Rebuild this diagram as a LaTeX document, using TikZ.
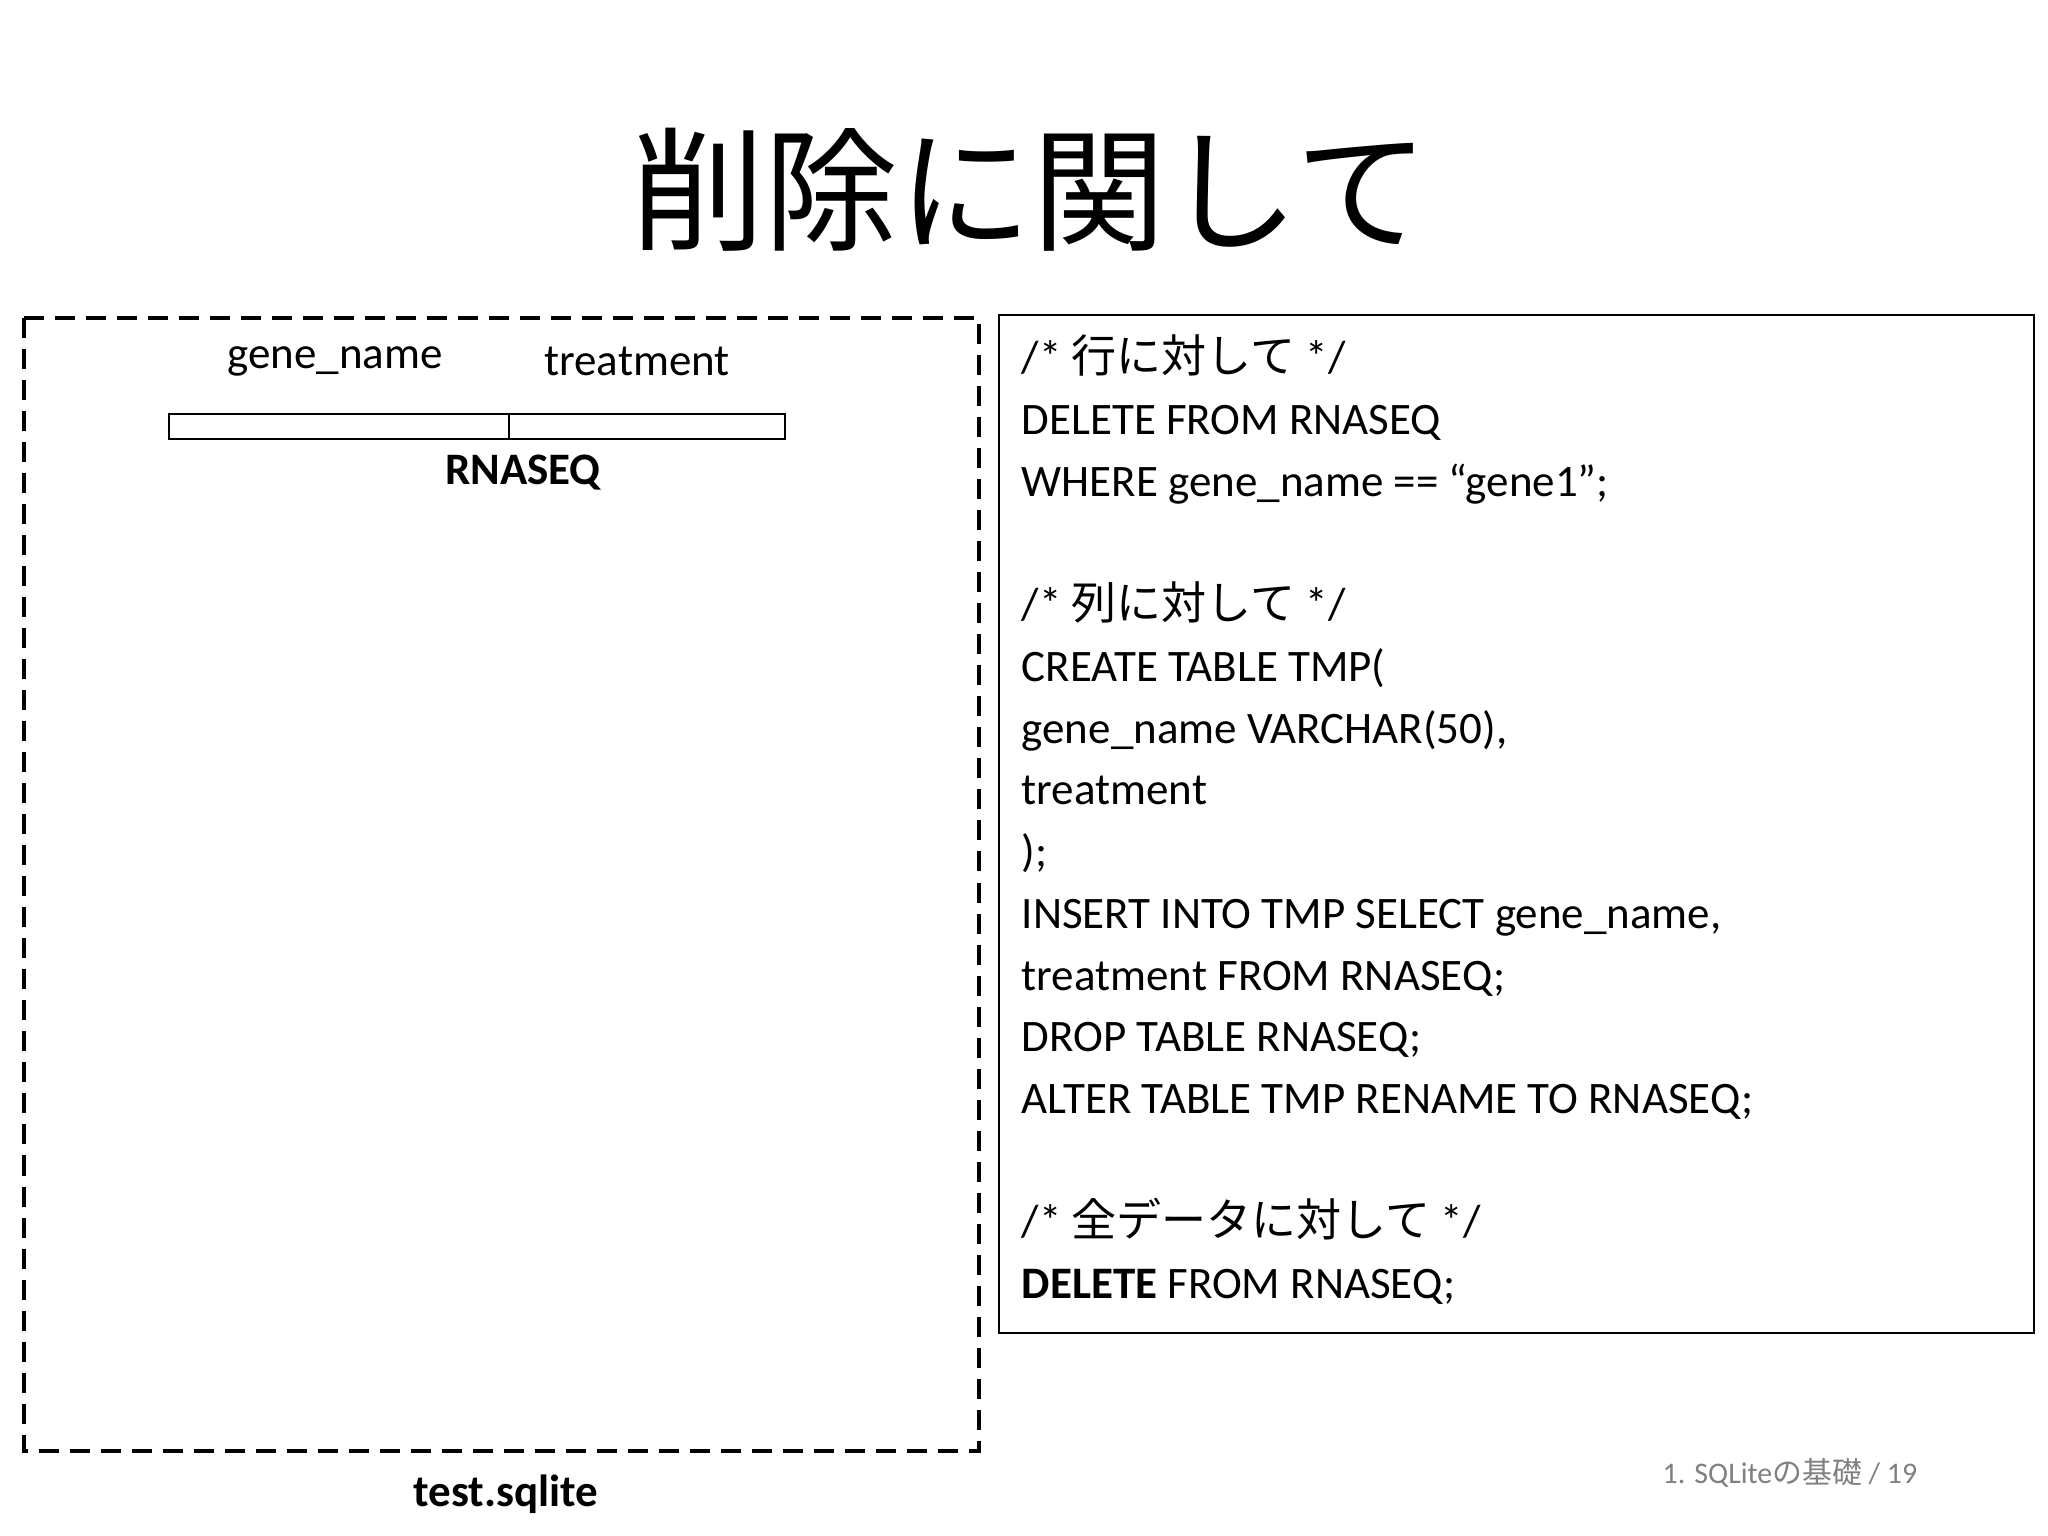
\documentclass[tikz,border=0pt]{standalone}
\usepackage{fontspec}
\setmainfont{Carlito}
\newfontfamily\jp{Noto Sans CJK JP}
\begin{document}
\begin{tikzpicture}[x=0.01cm,y=-0.01cm,
  codeline/.style={anchor=base west,inner sep=0pt,font=\fontsize{12.8}{15}\selectfont},
  lbl/.style={inner sep=0pt,font=\fontsize{12.8}{15}\selectfont}]
\useasboundingbox (0,0) rectangle (2048,1536);
\node[inner sep=0pt,font=\jp\fontsize{38}{40}\selectfont] (title) at (1030,190) {削除に関して};
\draw[line width=1.2pt,dash pattern=on 0.2cm off 0.11cm] (24,318) rectangle (979,1451);
\node[lbl] (h1) at (335,361) {gene\_name};
\node[lbl] (h2) at (637,361) {treatment};
\draw[line width=0.6pt] (169,414) rectangle (785,439);
\draw[line width=0.6pt] (509,414) -- (509,439);
\node[lbl,font=\fontsize{12.8}{15}\selectfont\bfseries] (rn) at (523,473) {RNASEQ};
\node[lbl,font=\fontsize{12.8}{15}\selectfont\bfseries] (ts) at (506,1494) {test.sqlite};
\draw[line width=0.6pt] (999,315) rectangle (2034,1333);
\node[codeline] (l1) at (1021,372) {/* {\jp 行に対して} */};
\node[codeline] (l2) at (1021,434) {DELETE FROM RNASEQ};
\node[codeline] (l3) at (1021,496) {WHERE gene\_name == “gene1”;};
\node[codeline] (l4) at (1021,619) {/* {\jp 列に対して} */};
\node[codeline] (l5) at (1021,681) {CREATE TABLE TMP(};
\node[codeline] (l6) at (1021,743) {gene\_name VARCHAR(50),};
\node[codeline] (l7) at (1021,804) {treatment};
\node[codeline] (l8) at (1021,866) {);};
\node[codeline] (l9) at (1021,928) {INSERT INTO TMP SELECT gene\_name,};
\node[codeline] (l10) at (1021,990) {treatment FROM RNASEQ;};
\node[codeline] (l11) at (1021,1051) {DROP TABLE RNASEQ;};
\node[codeline] (l12) at (1021,1113) {ALTER TABLE TMP RENAME TO RNASEQ;};
\node[codeline] (l13) at (1021,1236) {/* {\jp 全データに対して} */};
\node[codeline] (l14) at (1021,1298) {\textbf{DELETE} FROM RNASEQ;};
\node[inner sep=0pt,text=gray,font=\fontsize{8.5}{10}\selectfont] (ft) at (1790,1473) {1. SQLite{\jp の基礎} / 19};
\end{tikzpicture}
\end{document}
